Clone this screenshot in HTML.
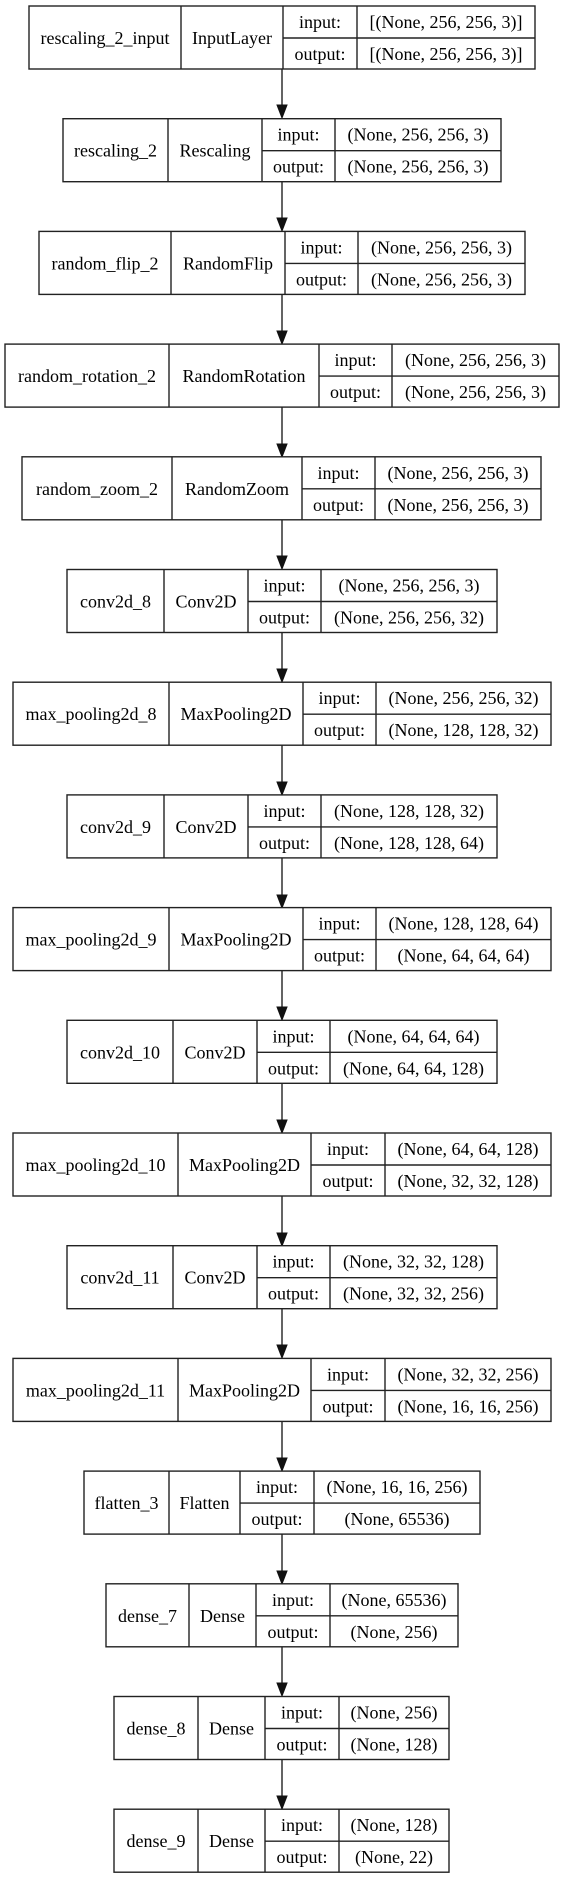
<!DOCTYPE html>
<html><head><meta charset="utf-8"><style>
html,body{margin:0;padding:0;background:#fff;}
svg{display:block;}
text{font-family:"Liberation Serif",serif;font-size:18px;fill:#000;text-anchor:middle;}
rect{fill:#fff;stroke:#222;stroke-width:1.4;}
line{stroke:#222;stroke-width:1.4;}
polygon{fill:#111;stroke:#111;stroke-width:1;}
</style></head><body>
<svg width="564" height="1878" viewBox="0 0 564 1878" xmlns="http://www.w3.org/2000/svg">
<!-- arrows -->
<g>
<line x1="282" y1="69" x2="282" y2="106"/><polygon points="277,105 287,105 282,118"/>
<line x1="282" y1="182" x2="282" y2="219"/><polygon points="277,218 287,218 282,231"/>
<line x1="282" y1="294" x2="282" y2="332"/><polygon points="277,331 287,331 282,344"/>
<line x1="282" y1="407" x2="282" y2="445"/><polygon points="277,444 287,444 282,457"/>
<line x1="282" y1="520" x2="282" y2="557"/><polygon points="277,556 287,556 282,569"/>
<line x1="282" y1="633" x2="282" y2="670"/><polygon points="277,669 287,669 282,682"/>
<line x1="282" y1="745" x2="282" y2="783"/><polygon points="277,782 287,782 282,795"/>
<line x1="282" y1="858" x2="282" y2="896"/><polygon points="277,895 287,895 282,908"/>
<line x1="282" y1="971" x2="282" y2="1008"/><polygon points="277,1007 287,1007 282,1020"/>
<line x1="282" y1="1083" x2="282" y2="1121"/><polygon points="277,1120 287,1120 282,1133"/>
<line x1="282" y1="1196" x2="282" y2="1234"/><polygon points="277,1233 287,1233 282,1246"/>
<line x1="282" y1="1309" x2="282" y2="1346"/><polygon points="277,1345 287,1345 282,1358"/>
<line x1="282" y1="1421" x2="282" y2="1459"/><polygon points="277,1458 287,1458 282,1471"/>
<line x1="282" y1="1534" x2="282" y2="1572"/><polygon points="277,1571 287,1571 282,1584"/>
<line x1="282" y1="1647" x2="282" y2="1684"/><polygon points="277,1683 287,1683 282,1696"/>
<line x1="282" y1="1759" x2="282" y2="1797"/><polygon points="277,1796 287,1796 282,1809"/>
</g>

<g transform="translate(0,6)">
<rect x="29" y="0" width="506" height="63"/><line x1="181" y1="0" x2="181" y2="63"/><line x1="283" y1="0" x2="283" y2="63"/><line x1="357" y1="0" x2="357" y2="63"/><line x1="283" y1="32" x2="535" y2="32"/>
<text x="105" y="38">rescaling_2_input</text><text x="232" y="38">InputLayer</text><text x="320" y="22">input:</text><text x="320" y="54">output:</text><text x="446" y="22">[(None, 256, 256, 3)]</text><text x="446" y="54">[(None, 256, 256, 3)]</text>
</g>
<g transform="translate(0,118.7)">
<rect x="63" y="0" width="438" height="63"/><line x1="168" y1="0" x2="168" y2="63"/><line x1="262" y1="0" x2="262" y2="63"/><line x1="335" y1="0" x2="335" y2="63"/><line x1="262" y1="32" x2="501" y2="32"/>
<text x="115.5" y="38">rescaling_2</text><text x="215" y="38">Rescaling</text><text x="298.5" y="22">input:</text><text x="298.5" y="54">output:</text><text x="418" y="22">(None, 256, 256, 3)</text><text x="418" y="54">(None, 256, 256, 3)</text>
</g>
<g transform="translate(0,231.4)">
<rect x="39" y="0" width="486" height="63"/><line x1="171" y1="0" x2="171" y2="63"/><line x1="285" y1="0" x2="285" y2="63"/><line x1="358" y1="0" x2="358" y2="63"/><line x1="285" y1="32" x2="525" y2="32"/>
<text x="105" y="38">random_flip_2</text><text x="228" y="38">RandomFlip</text><text x="321.5" y="22">input:</text><text x="321.5" y="54">output:</text><text x="441.5" y="22">(None, 256, 256, 3)</text><text x="441.5" y="54">(None, 256, 256, 3)</text>
</g>
<g transform="translate(0,344.1)">
<rect x="5" y="0" width="554" height="63"/><line x1="169" y1="0" x2="169" y2="63"/><line x1="319" y1="0" x2="319" y2="63"/><line x1="392" y1="0" x2="392" y2="63"/><line x1="319" y1="32" x2="559" y2="32"/>
<text x="87" y="38">random_rotation_2</text><text x="244" y="38">RandomRotation</text><text x="355.5" y="22">input:</text><text x="355.5" y="54">output:</text><text x="475.5" y="22">(None, 256, 256, 3)</text><text x="475.5" y="54">(None, 256, 256, 3)</text>
</g>
<g transform="translate(0,456.8)">
<rect x="22" y="0" width="519" height="63"/><line x1="172" y1="0" x2="172" y2="63"/><line x1="302" y1="0" x2="302" y2="63"/><line x1="375" y1="0" x2="375" y2="63"/><line x1="302" y1="32" x2="541" y2="32"/>
<text x="97" y="38">random_zoom_2</text><text x="237" y="38">RandomZoom</text><text x="338.5" y="22">input:</text><text x="338.5" y="54">output:</text><text x="458" y="22">(None, 256, 256, 3)</text><text x="458" y="54">(None, 256, 256, 3)</text>
</g>
<g transform="translate(0,569.5)">
<rect x="67" y="0" width="430" height="63"/><line x1="164" y1="0" x2="164" y2="63"/><line x1="248" y1="0" x2="248" y2="63"/><line x1="321" y1="0" x2="321" y2="63"/><line x1="248" y1="32" x2="497" y2="32"/>
<text x="115.5" y="38">conv2d_8</text><text x="206" y="38">Conv2D</text><text x="284.5" y="22">input:</text><text x="284.5" y="54">output:</text><text x="409" y="22">(None, 256, 256, 3)</text><text x="409" y="54">(None, 256, 256, 32)</text>
</g>
<g transform="translate(0,682.2)">
<rect x="13" y="0" width="538" height="63"/><line x1="169" y1="0" x2="169" y2="63"/><line x1="303" y1="0" x2="303" y2="63"/><line x1="376" y1="0" x2="376" y2="63"/><line x1="303" y1="32" x2="551" y2="32"/>
<text x="91" y="38">max_pooling2d_8</text><text x="236" y="38">MaxPooling2D</text><text x="339.5" y="22">input:</text><text x="339.5" y="54">output:</text><text x="463.5" y="22">(None, 256, 256, 32)</text><text x="463.5" y="54">(None, 128, 128, 32)</text>
</g>
<g transform="translate(0,794.9)">
<rect x="67" y="0" width="430" height="63"/><line x1="164" y1="0" x2="164" y2="63"/><line x1="248" y1="0" x2="248" y2="63"/><line x1="321" y1="0" x2="321" y2="63"/><line x1="248" y1="32" x2="497" y2="32"/>
<text x="115.5" y="38">conv2d_9</text><text x="206" y="38">Conv2D</text><text x="284.5" y="22">input:</text><text x="284.5" y="54">output:</text><text x="409" y="22">(None, 128, 128, 32)</text><text x="409" y="54">(None, 128, 128, 64)</text>
</g>
<g transform="translate(0,907.6)">
<rect x="13" y="0" width="538" height="63"/><line x1="169" y1="0" x2="169" y2="63"/><line x1="303" y1="0" x2="303" y2="63"/><line x1="376" y1="0" x2="376" y2="63"/><line x1="303" y1="32" x2="551" y2="32"/>
<text x="91" y="38">max_pooling2d_9</text><text x="236" y="38">MaxPooling2D</text><text x="339.5" y="22">input:</text><text x="339.5" y="54">output:</text><text x="463.5" y="22">(None, 128, 128, 64)</text><text x="463.5" y="54">(None, 64, 64, 64)</text>
</g>
<g transform="translate(0,1020.3)">
<rect x="67" y="0" width="430" height="63"/><line x1="173" y1="0" x2="173" y2="63"/><line x1="257" y1="0" x2="257" y2="63"/><line x1="330" y1="0" x2="330" y2="63"/><line x1="257" y1="32" x2="497" y2="32"/>
<text x="120" y="38">conv2d_10</text><text x="215" y="38">Conv2D</text><text x="293.5" y="22">input:</text><text x="293.5" y="54">output:</text><text x="413.5" y="22">(None, 64, 64, 64)</text><text x="413.5" y="54">(None, 64, 64, 128)</text>
</g>
<g transform="translate(0,1133)">
<rect x="13" y="0" width="538" height="63"/><line x1="178" y1="0" x2="178" y2="63"/><line x1="311" y1="0" x2="311" y2="63"/><line x1="385" y1="0" x2="385" y2="63"/><line x1="311" y1="32" x2="551" y2="32"/>
<text x="95.5" y="38">max_pooling2d_10</text><text x="244.5" y="38">MaxPooling2D</text><text x="348" y="22">input:</text><text x="348" y="54">output:</text><text x="468" y="22">(None, 64, 64, 128)</text><text x="468" y="54">(None, 32, 32, 128)</text>
</g>
<g transform="translate(0,1245.7)">
<rect x="67" y="0" width="430" height="63"/><line x1="173" y1="0" x2="173" y2="63"/><line x1="257" y1="0" x2="257" y2="63"/><line x1="330" y1="0" x2="330" y2="63"/><line x1="257" y1="32" x2="497" y2="32"/>
<text x="120" y="38">conv2d_11</text><text x="215" y="38">Conv2D</text><text x="293.5" y="22">input:</text><text x="293.5" y="54">output:</text><text x="413.5" y="22">(None, 32, 32, 128)</text><text x="413.5" y="54">(None, 32, 32, 256)</text>
</g>
<g transform="translate(0,1358.4)">
<rect x="13" y="0" width="538" height="63"/><line x1="178" y1="0" x2="178" y2="63"/><line x1="311" y1="0" x2="311" y2="63"/><line x1="385" y1="0" x2="385" y2="63"/><line x1="311" y1="32" x2="551" y2="32"/>
<text x="95.5" y="38">max_pooling2d_11</text><text x="244.5" y="38">MaxPooling2D</text><text x="348" y="22">input:</text><text x="348" y="54">output:</text><text x="468" y="22">(None, 32, 32, 256)</text><text x="468" y="54">(None, 16, 16, 256)</text>
</g>
<g transform="translate(0,1471.1)">
<rect x="84" y="0" width="396" height="63"/><line x1="169" y1="0" x2="169" y2="63"/><line x1="240" y1="0" x2="240" y2="63"/><line x1="314" y1="0" x2="314" y2="63"/><line x1="240" y1="32" x2="480" y2="32"/>
<text x="126.5" y="38">flatten_3</text><text x="204.5" y="38">Flatten</text><text x="277" y="22">input:</text><text x="277" y="54">output:</text><text x="397" y="22">(None, 16, 16, 256)</text><text x="397" y="54">(None, 65536)</text>
</g>
<g transform="translate(0,1583.8)">
<rect x="106" y="0" width="352" height="63"/><line x1="189" y1="0" x2="189" y2="63"/><line x1="256" y1="0" x2="256" y2="63"/><line x1="330" y1="0" x2="330" y2="63"/><line x1="256" y1="32" x2="458" y2="32"/>
<text x="147.5" y="38">dense_7</text><text x="222.5" y="38">Dense</text><text x="293" y="22">input:</text><text x="293" y="54">output:</text><text x="394" y="22">(None, 65536)</text><text x="394" y="54">(None, 256)</text>
</g>
<g transform="translate(0,1696.5)">
<rect x="114" y="0" width="335" height="63"/><line x1="198" y1="0" x2="198" y2="63"/><line x1="265" y1="0" x2="265" y2="63"/><line x1="339" y1="0" x2="339" y2="63"/><line x1="265" y1="32" x2="449" y2="32"/>
<text x="156" y="38">dense_8</text><text x="231.5" y="38">Dense</text><text x="302" y="22">input:</text><text x="302" y="54">output:</text><text x="394" y="22">(None, 256)</text><text x="394" y="54">(None, 128)</text>
</g>
<g transform="translate(0,1809.2)">
<rect x="114" y="0" width="335" height="63"/><line x1="198" y1="0" x2="198" y2="63"/><line x1="265" y1="0" x2="265" y2="63"/><line x1="339" y1="0" x2="339" y2="63"/><line x1="265" y1="32" x2="449" y2="32"/>
<text x="156" y="38">dense_9</text><text x="231.5" y="38">Dense</text><text x="302" y="22">input:</text><text x="302" y="54">output:</text><text x="394" y="22">(None, 128)</text><text x="394" y="54">(None, 22)</text>
</g>
</svg>
</body></html>
